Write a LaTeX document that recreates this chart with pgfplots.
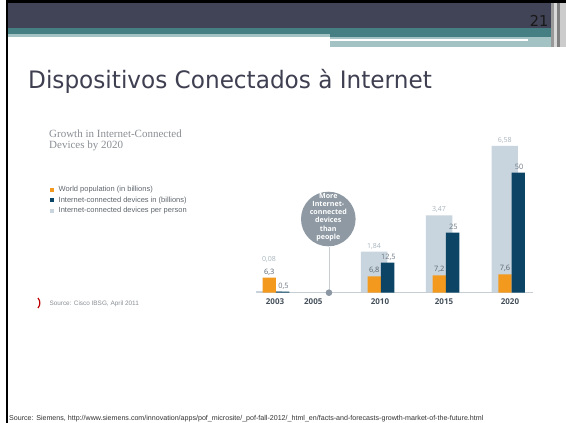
\documentclass[border=0pt]{standalone}
\usepackage{fontspec}
\setmainfont{Open Sans}
\newfontfamily\titlefont[FakeStretch=0.965]{DejaVu Sans}
\newfontfamily\serifa{Liberation Serif}
\newfontfamily\arial{Liberation Sans}
\usepackage{pgfplots}
\pgfplotsset{compat=1.18}
\definecolor{hdark}{HTML}{414356}
\definecolor{hteal}{HTML}{457F83}
\definecolor{hlight}{HTML}{A3C2C4}
\definecolor{corange}{HTML}{F39A1E}
\definecolor{cblue}{HTML}{0B4464}
\definecolor{cgrey}{HTML}{C9D5DE}
\definecolor{lgrey}{HTML}{A9B5BE}
\definecolor{ltext}{HTML}{56616D}
\definecolor{yeartext}{HTML}{45505B}
\definecolor{balloon}{HTML}{8E99A3}
\definecolor{cline}{HTML}{C6CED4}
\definecolor{dotc}{HTML}{8B97A3}
\definecolor{titlec}{HTML}{3F3F52}
\definecolor{gtext}{HTML}{8A8F95}
\definecolor{legtext}{HTML}{5F666D}
\begin{document}
\begin{tikzpicture}
\begin{scope}[x=1pt,y=-1pt]
% background and frame
\fill[white] (0,0) rectangle (566,423);
% header bands
\fill[hdark] (8.3,3.3) rectangle (552,27.7);
\fill[hteal] (8.3,27.7) rectangle (552,34);
\fill[hteal] (330,34) rectangle (552,36.7);
\fill[hlight] (8.3,34) rectangle (330,37);
\fill[hlight] (330,36.7) rectangle (552,46.7);
\fill[white] (330,39.4) rectangle (528,40.6);
% right edge stripes
\fill[black!40] (551,3.3) rectangle (554,46.7);
\fill[black!15] (554,3.3) rectangle (557,46.7);
\fill[black!50] (557,3.3) rectangle (560,46.7);
\fill[black!20] (560,3.3) rectangle (566,46.7);
% page number
\node[anchor=base east, inner sep=0, text=black!90, font=\titlefont\fontsize{15}{16}\selectfont] at (548.5,26.5) {21};
% title
\node[anchor=base west, inner sep=0, text=titlec, font=\titlefont\fontsize{24}{28}\selectfont] at (28,88) {Dispositivos Conectados à Internet};
% chart heading
\node[anchor=base west, inner sep=0, text=gtext, font=\serifa\fontsize{11}{12}\selectfont] at (49,137.5) {Growth in Internet-Connected};
\node[anchor=base west, inner sep=0, text=gtext, font=\serifa\fontsize{11}{12}\selectfont] at (49,148.8) {Devices by 2020};
% legend
\fill[corange] (50,187.7) rectangle (54.3,192);
\fill[cblue] (50,197.9) rectangle (54.3,202.2);
\fill[cgrey] (50,208.6) rectangle (54.3,212.9);
\node[anchor=west, inner sep=0, text=legtext, font=\arial\fontsize{7.5}{8}\selectfont] at (58.5,190) {World population (in billions)};
\node[anchor=west, inner sep=0, text=legtext, font=\arial\fontsize{7.5}{8}\selectfont] at (58.5,200.2) {Internet-connected devices in (billions)};
\node[anchor=west, inner sep=0, text=legtext, font=\arial\fontsize{7.5}{8}\selectfont] at (58.5,210.8) {Internet-connected devices per person};
% source cisco
\draw[red!75!black, line width=1.2pt] (38,298) .. controls (40.5,301) and (40.5,305) .. (38,308);
\node[anchor=west, inner sep=0, text=gtext, font=\arial\fontsize{6.4}{7}\selectfont] at (49.3,304) {Source: Cisco IBSG, April 2011};
% bottom source
\node[anchor=base west, inner sep=0, text=black!80, font=\arial\fontsize{7.1}{8}\selectfont] at (9,420.5) {Source: Siemens, http://www.siemens.com/innovation/apps/pof\_microsite/\_pof-fall-2012/\_html\_en/facts-and-forecasts-growth-market-of-the-future.html};
% frame on top
\fill[black] (6,0) rectangle (566,3.3);
\fill[black] (6,0) rectangle (8.3,423);
\end{scope}

% per-person bars (own scale)
\begin{axis}[at={(257pt,-292.7pt)}, anchor=south west, x=65pt, y=22.3pt,
  xmin=-0.292, xmax=3.954, ymin=0, ymax=8, hide axis, clip=false]
\addplot[ybar, bar width=26.3pt, bar shift=-6.85pt, fill=cgrey, draw=none,
  nodes near coords, point meta=explicit symbolic,
  nodes near coords style={font=\fontsize{7}{8}\selectfont, text=lgrey, anchor=base, inner sep=0pt, yshift=3.5pt, xshift=-6.85pt}]
  coordinates {(1.615,1.84) [1,84] (2.615,3.47) [3,47] (3.626,6.58) [6,58]};
\addplot[ybar, bar width=26.3pt, bar shift=-6.85pt, fill=cgrey, draw=none]
  coordinates {(0,0.08)};
\node[font=\fontsize{7}{8}\selectfont, text=lgrey, inner sep=0pt] at (axis cs:-0.108,1.5) {0,08};
\end{axis}

% population and devices
\begin{axis}[at={(257pt,-292.7pt)}, anchor=south west, x=65pt, y=2.4pt,
  xmin=-0.292, xmax=3.954, ymin=0, ymax=60, clip=false,
  axis x line=bottom, axis y line=none,
  x axis line style={-, draw=cline, line width=1pt},
  xtick={-0.015,0.574,1.6,2.585,3.6},
  xticklabels={2003,2005,2010,2015,2020},
  xticklabel style={font=\bfseries\fontsize{8}{9}\selectfont, text=yeartext, yshift=-2.5pt},
  major tick length=0pt, tick style={draw=none}]
\addplot[ybar, bar width=13.3pt, bar shift=-6.65pt, fill=corange, draw=none,
  nodes near coords, point meta=explicit symbolic,
  nodes near coords style={font=\fontsize{7.4}{8}\selectfont, text=ltext, anchor=base, inner sep=0pt, yshift=3.5pt, xshift=-6.65pt}]
  coordinates {(0,6.3) [6,3] (1.615,6.8) [6,8] (2.615,7.2) [7,2] (3.626,7.6) [7,6]};
\addplot[ybar, bar width=13.3pt, bar shift=6.65pt, fill=cblue, draw=none,
  nodes near coords, point meta=explicit symbolic,
  nodes near coords style={font=\fontsize{7.4}{8}\selectfont, text=ltext!85, anchor=base, inner sep=0pt, yshift=3.5pt, xshift=7.5pt}]
  coordinates {(0,0.5) [0,5] (1.615,12.5) [12,5] (2.615,25) [25] (3.626,50) [50]};
% annotation balloon
\draw[draw=cline, line width=0.9pt] (axis cs:0.815,0) -- (axis cs:0.815,19.2);
\fill[balloon] (axis cs:0.805,30.7) circle[radius=27.3pt];
\node[text=white, align=center, font=\bfseries\fontsize{7.1}{8.3}\selectfont, inner sep=0pt] at (axis cs:0.805,31.5) {More\\Internet-\\connected\\devices\\than\\people};
\fill[dotc] (axis cs:0.815,0) circle[radius=3.3pt];
\end{axis}
\end{tikzpicture}
\end{document}
